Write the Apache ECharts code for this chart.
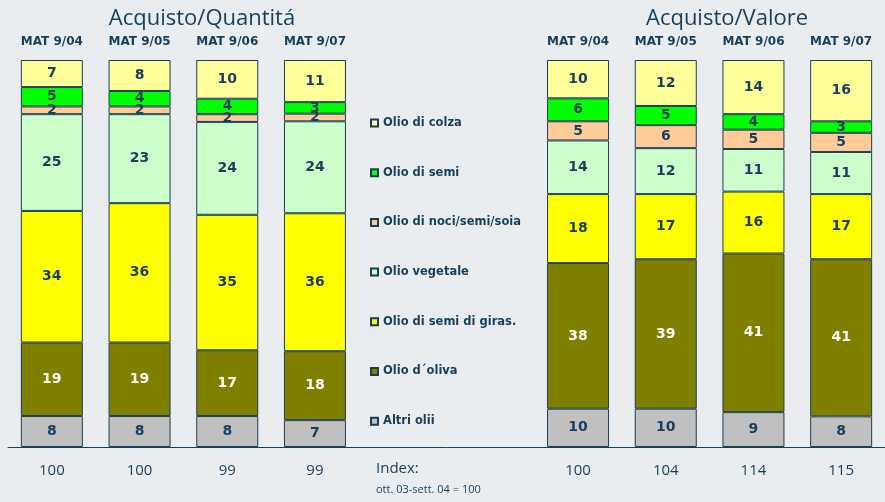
<!DOCTYPE html>
<html>
<head>
<meta charset="utf-8">
<script src="https://cdn.jsdelivr.net/npm/echarts@6/dist/echarts.min.js"></script>
<style>
  html, body { margin: 0; padding: 0; background: #e9edef; }
  #chart { width: 885px; height: 502px; }
</style>
</head>
<body>
<div id="chart"></div>
<script>
  // periodi e indici
  var periodi = ['MAT 9/04', 'MAT 9/05', 'MAT 9/06', 'MAT 9/07'];
  var indexQuantita = ['100', '100', '99', '99'];
  var indexValore = ['100', '104', '114', '115'];

  // nomi delle serie, dal basso verso l'alto
  var nomi = ['Altri olii', 'Olio d´oliva', 'Olio di semi di giras.', 'Olio vegetale',
              'Olio di noci/semi/soia', 'Olio di semi', 'Olio di colza'];

  // Acquisto/Quantità (%)
  var altriQ    = [8, 8, 8, 7];
  var olivaQ    = [19, 19, 17, 18];
  var girasQ    = [34, 36, 35, 36];
  var vegetaleQ = [25, 23, 24, 24];
  var nociQ     = [2, 2, 2, 2];
  var semiQ     = [5, 4, 4, 3];
  var colzaQ    = [7, 8, 10, 11];

  // Acquisto/Valore (%)
  var altriV    = [10, 10, 9, 8];
  var olivaV    = [38, 39, 41, 41];
  var girasV    = [18, 17, 16, 17];
  var vegetaleV = [14, 12, 11, 11];
  var nociV     = [5, 6, 5, 5];
  var semiV     = [6, 5, 4, 3];
  var colzaV    = [10, 12, 14, 16];

  var colori = ['#c0c0c0', '#808000', '#ffff00', '#ccffcc', '#ffcc99', '#00ff00', '#ffff99'];

  var quantita = [altriQ, olivaQ, girasQ, vegetaleQ, nociQ, semiQ, colzaQ];
  var valore = [altriV, olivaV, girasV, vegetaleV, nociV, semiV, colzaV];

  // 4 barre, 2 posti vuoti (legenda), 4 barre
  var raw = quantita.map(function (q, i) {
    return q.concat([null, null]).concat(valore[i]);
  });
  var totali = [];
  for (var k = 0; k < 10; k++) {
    var s = 0;
    raw.forEach(function (r) { s += r[k] || 0; });
    totali.push(s);
  }

  var navy = '#173f5c';
  var myChart = echarts.init(document.getElementById('chart'));

  var series = raw.map(function (r, i) {
    return {
      name: nomi[i],
      type: 'bar',
      stack: 'tot',
      barWidth: 62,
      itemStyle: { color: colori[i], borderColor: '#1a3d58', borderWidth: 1 },
      label: {
        show: true,
        position: 'inside',
        color: i == 1 ? '#ffffff' : navy,
        fontFamily: 'DejaVu Sans',
        fontWeight: 'bold',
        fontSize: 14,
        formatter: function (p) { return raw[i][p.dataIndex]; }
      },
      data: r.map(function (v, j) { return v == null ? null : v / totali[j] * 100; })
    };
  });

  myChart.setOption({
    backgroundColor: '#e9edef',
    animation: false,
    title: [
      { text: 'Acquisto/Quantitá', left: 197, top: 3, textAlign: 'center',
        textStyle: { fontFamily: 'Open Sans', fontWeight: 'normal', fontSize: 22, color: navy } },
      { text: 'Acquisto/Valore', left: 722, top: 3, textAlign: 'center',
        textStyle: { fontFamily: 'Open Sans', fontWeight: 'normal', fontSize: 22, color: navy } }
    ],
    legend: {
      orient: 'vertical',
      left: 365,
      top: 112,
      icon: 'rect',
      itemWidth: 7,
      itemHeight: 7,
      itemGap: 37.7,
      data: nomi.slice().reverse(),
      textStyle: { fontFamily: 'DejaVu Sans', fontWeight: 'bold', fontSize: 11.5, color: navy }
    },
    grid: { left: 8, right: -2, top: 60, bottom: 55 },
    xAxis: [
      {
        type: 'category',
        position: 'bottom',
        data: indexQuantita.concat(['', '']).concat(indexValore),
        axisLine: { lineStyle: { color: navy, width: 1 } },
        axisTick: { length: 5, lineStyle: { color: navy } },
        axisLabel: { margin: 16, fontFamily: 'Open Sans', fontSize: 15, color: navy, interval: 0 }
      },
      {
        type: 'category',
        position: 'top',
        data: periodi.concat(['', '']).concat(periodi),
        axisLine: { show: false },
        axisTick: { show: false },
        axisLabel: { margin: 12, fontFamily: 'DejaVu Sans', fontWeight: 'bold', fontSize: 12, color: navy, interval: 0 }
      }
    ],
    yAxis: { type: 'value', min: 0, max: 100, show: false },
    graphic: [
      { type: 'text', left: 376, top: 461,
        style: { text: 'Index:', font: '15px "Open Sans"', fill: navy } },
      { type: 'text', left: 376, top: 484,
        style: { text: 'ott. 03-sett. 04 = 100', font: '11px "Open Sans"', fill: navy } }
    ],
    series: series
  });
</script>
</body>
</html>
